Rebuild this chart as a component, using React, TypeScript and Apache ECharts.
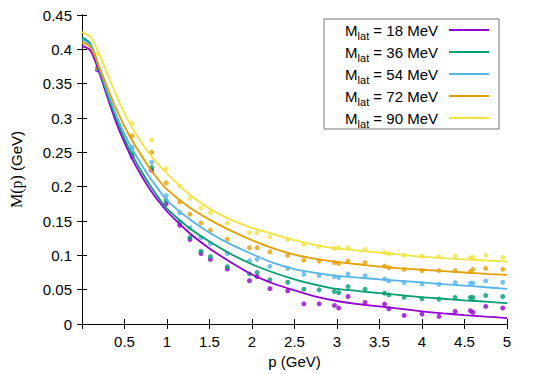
import React, { useEffect, useRef } from "react";
import * as echarts from "echarts";

const massLabels = ["18 MeV", "36 MeV", "54 MeV", "72 MeV", "90 MeV"];
const colors = ["#9400d3", "#009e73", "#56b4e9", "#e69f00", "#f0e442"];

// Fitted curves (sampled along p)
const pCurve = [0, 0.1, 0.2, 0.3, 0.4, 0.5, 0.6, 0.7, 0.8, 0.9, 1.0, 1.25, 1.5, 1.75, 2.0, 2.25, 2.5, 2.75, 3.0, 3.25, 3.5, 3.75, 4.0, 4.25, 4.5, 4.75, 5.0];
const curve18 = [0.405, 0.398, 0.367, 0.330, 0.294, 0.264, 0.238, 0.216, 0.196, 0.179, 0.164, 0.134, 0.110, 0.090, 0.072, 0.059, 0.049, 0.040, 0.0335, 0.029, 0.0256, 0.022, 0.0184, 0.0155, 0.013, 0.0108, 0.0087];
const curve36 = [0.417, 0.408, 0.372, 0.334, 0.300, 0.270, 0.244, 0.222, 0.202, 0.184, 0.168, 0.141, 0.120, 0.102, 0.087, 0.075, 0.065, 0.057, 0.051, 0.048, 0.045, 0.042, 0.039, 0.0368, 0.0345, 0.0325, 0.0304];
const curve54 = [0.414, 0.406, 0.374, 0.338, 0.305, 0.277, 0.253, 0.232, 0.213, 0.196, 0.180, 0.154, 0.133, 0.116, 0.102, 0.089, 0.080, 0.0745, 0.070, 0.0675, 0.065, 0.0627, 0.0605, 0.058, 0.056, 0.0535, 0.0511];
const curve72 = [0.410, 0.403, 0.376, 0.344, 0.314, 0.288, 0.265, 0.245, 0.226, 0.210, 0.196, 0.171, 0.152, 0.136, 0.122, 0.110, 0.101, 0.095, 0.0905, 0.087, 0.0835, 0.081, 0.079, 0.077, 0.075, 0.073, 0.0714];
const curve90 = [0.425, 0.418, 0.394, 0.364, 0.334, 0.307, 0.284, 0.264, 0.247, 0.232, 0.219, 0.190, 0.168, 0.152, 0.140, 0.131, 0.122, 0.115, 0.110, 0.107, 0.104, 0.101, 0.098, 0.096, 0.094, 0.0925, 0.091];

// Lattice data points
const pLat = [0.18, 0.59, 0.82, 0.99, 1.15, 1.27, 1.40, 1.51, 1.71, 1.97, 2.06, 2.21, 2.42, 2.61, 2.79, 2.97, 3.02, 3.13, 3.33, 3.56, 3.61, 3.79, 4.00, 4.20, 4.39, 4.57, 4.60, 4.75, 4.95];
const lat18 = [0.370, 0.2436, 0.224, 0.175, 0.1437, 0.123, 0.1027, 0.094, 0.080, 0.063, 0.069, 0.0515, 0.0482, 0.0294, 0.0294, 0.027, 0.0232, 0.040, 0.0314, 0.029, 0.0222, 0.0125, 0.0145, 0.0111, 0.0183, 0.0193, 0.0169, 0.0256, 0.0232];
const lat36 = [0.372, 0.248, 0.228, 0.180, 0.1486, 0.126, 0.106, 0.098, 0.0835, 0.073, 0.075, 0.0645, 0.0608, 0.0507, 0.0497, 0.0473, 0.0458, 0.0545, 0.0507, 0.0449, 0.0424, 0.039, 0.0366, 0.0362, 0.0386, 0.0386, 0.0386, 0.0415, 0.040];
const lat54 = [0.372, 0.257, 0.2355, 0.187, 0.162, 0.140, 0.126, 0.117, 0.1027, 0.092, 0.094, 0.084, 0.081, 0.0724, 0.0704, 0.069, 0.0676, 0.0728, 0.0704, 0.0656, 0.0627, 0.0603, 0.0583, 0.0579, 0.0603, 0.0593, 0.0593, 0.0627, 0.0608];
const lat72 = [0.373, 0.274, 0.250, 0.2055, 0.178, 0.160, 0.147, 0.1365, 0.1235, 0.111, 0.111, 0.105, 0.100, 0.093, 0.0916, 0.0893, 0.088, 0.0916, 0.0893, 0.0844, 0.082, 0.0796, 0.0777, 0.0777, 0.0777, 0.0763, 0.0796, 0.081, 0.0796];
const lat90 = [0.393, 0.292, 0.268, 0.226, 0.2007, 0.183, 0.169, 0.162, 0.147, 0.133, 0.133, 0.127, 0.123, 0.116, 0.113, 0.110, 0.111, 0.111, 0.1085, 0.104, 0.102, 0.100, 0.099, 0.098, 0.099, 0.0965, 0.097, 0.100, 0.097];

const curves = [curve18, curve36, curve54, curve72, curve90];
const lattice = [lat18, lat36, lat54, lat72, lat90];

const SANS = "'Liberation Sans', Arial, sans-serif";
const SERIF = "'Liberation Serif', 'Times New Roman', serif";

export default function App() {
  const ref = useRef<HTMLDivElement>(null);
  useEffect(() => {
    if (!ref.current) return;
    const chart = echarts.init(ref.current, undefined, { renderer: "svg" });
    const axisLine = { show: true, lineStyle: { color: "#000", width: 1 } };
    const tick = { show: true, inside: true, length: 5, lineStyle: { color: "#000", width: 1 } };
    const series: any[] = [];
    curves.forEach((c, i) => {
      series.push({
        name: "pts " + massLabels[i],
        type: "scatter",
        data: pLat.map((p, j) => [p, lattice[i][j]]),
        symbol: "circle",
        symbolSize: 5,
        itemStyle: { color: colors[i] },
        z: 2,
      });
      series.push({
        name: massLabels[i],
        type: "line",
        data: pCurve.map((p, j) => [p, c[j]]),
        showSymbol: false,
        symbol: "none",
        smooth: 0.3,
        lineStyle: { color: colors[i], width: 1.8 },
        z: 3,
      });
    });
    const graphic: any[] = [
      {
        type: "rect",
        z: 100,
        shape: { x: 324, y: 19, width: 175, height: 110 },
        style: { fill: "#fff", stroke: "#777", lineWidth: 1 },
      },
    ];
    massLabels.forEach((m, i) => {
      const y = 30 + 22 * i;
      graphic.push({
        type: "text",
        z: 101,
        x: 438,
        y,
        style: {
          text: `{m|M}{s|lat}{m| = ${m}}`,
          align: "right",
          verticalAlign: "middle",
          fill: "#000",
          rich: {
            m: { fontSize: 15, fontFamily: SANS, lineHeight: 22, fill: "#000" },
            s: { fontSize: 11, fontFamily: SANS, lineHeight: 12, verticalAlign: "bottom", fill: "#000" },
          },
        },
      });
      graphic.push({
        type: "line",
        z: 101,
        shape: { x1: 449, y1: y, x2: 489, y2: y },
        style: { stroke: colors[i], lineWidth: 2 },
      });
    });
    chart.setOption({
      animation: false,
      backgroundColor: "#fff",
      grid: { left: 81, right: 27, top: 15, bottom: 48, containLabel: false },
      xAxis: [
        {
          type: "value",
          min: 0,
          max: 5,
          interval: 0.5,
          name: "p (GeV)",
          nameLocation: "middle",
          nameGap: 30,
          nameTextStyle: { fontSize: 15, fontFamily: SANS, color: "#000" },
          axisLine,
          axisTick: tick,
          splitLine: { show: false },
          axisLabel: {
            fontSize: 15,
            fontFamily: SANS,
            color: "#000",
            margin: 10,
            formatter: (v: number) => (v === 0 ? "" : String(v)),
          },
        },
        {
          type: "value",
          position: "top",
          min: 0,
          max: 5,
          interval: 0.5,
          axisLine,
          axisTick: tick,
          splitLine: { show: false },
          axisLabel: { show: false },
        },
      ],
      yAxis: [
        {
          type: "value",
          min: 0,
          max: 0.45,
          interval: 0.05,
          name: "{s|M(p)}{a| (GeV)}",
          nameLocation: "middle",
          nameGap: 58,
          nameTextStyle: {
            rich: {
              s: { fontSize: 16, fontFamily: SERIF, color: "#000" },
              a: { fontSize: 15, fontFamily: SANS, color: "#000" },
            },
          },
          axisLine,
          axisTick: tick,
          splitLine: { show: false },
          axisLabel: { fontSize: 15, fontFamily: SANS, color: "#000", margin: 10 },
        },
        {
          type: "value",
          position: "right",
          min: 0,
          max: 0.45,
          interval: 0.05,
          axisLine,
          axisTick: tick,
          splitLine: { show: false },
          axisLabel: { show: false },
        },
      ],
      series,
      graphic,
    });
    return () => chart.dispose();
  }, []);
  return <div ref={ref} style={{ position: "absolute", left: 0, top: 0, width: 534, height: 374 }} />;
}
